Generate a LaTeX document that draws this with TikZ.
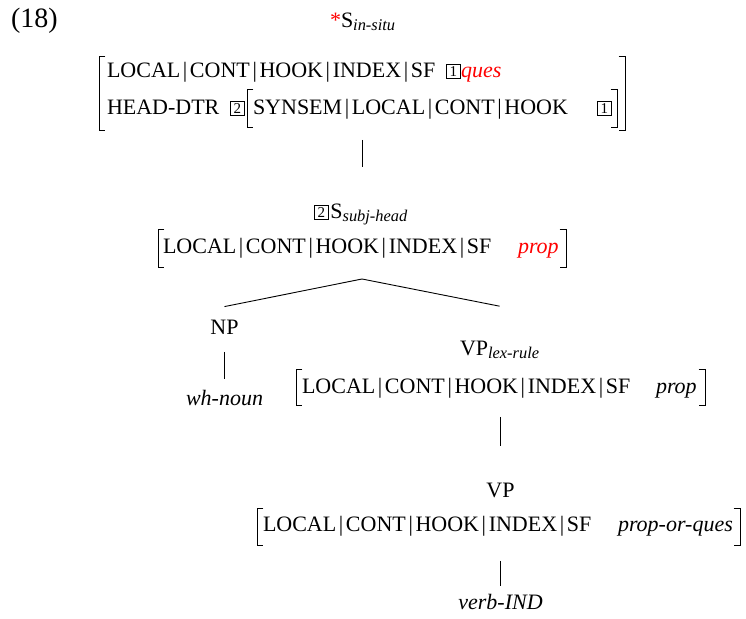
\documentclass[tikz,border=0pt]{standalone}
\usepackage{fontspec}
\setmainfont{Liberation Serif}
\newcommand\vb{\hspace{0.12em}\textbar\hspace{0.12em}}
\newcommand\tg[1]{{\setlength\fboxsep{0pt}\setlength\fboxrule{0.4pt}\fbox{\makebox[6.6pt][c]{\rule[-0.1pt]{0pt}{6.6pt}\raisebox{0.65pt}{\fontsize{7.5}{8}\selectfont#1}}}}}
\newcommand\sbs[1]{{\fontsize{8.2}{9}\selectfont\itshape\raisebox{-1.5pt}{#1}}}
\newcommand\feat{LOCAL\vb CONT\vb HOOK\vb INDEX\vb SF}
\newcommand\brackets[1]{%
  \draw[brk] ([xshift=3.2pt]#1.north west) -- (#1.north west) -- (#1.south west) -- ([xshift=3.2pt]#1.south west);
  \draw[brk] ([xshift=-3.2pt]#1.north east) -- (#1.north east) -- (#1.south east) -- ([xshift=-3.2pt]#1.south east);}
\begin{document}
\begin{tikzpicture}[x=0.5pt,y=-0.5pt,
  txt/.style={inner sep=0pt, outer sep=0pt, anchor=base west, font=\fontsize{11}{13}\selectfont},
  avm/.style={inner sep=0pt, outer sep=0pt, draw=none},
  brk/.style={line width=0.4pt},
  tree/.style={line width=0.45pt}]
\useasboundingbox (0,0) rectangle (746,619);

% example number and root label
\node[txt, font=\fontsize{14}{16}\selectfont] (ex) at (11,28) {(18)};
\node[txt] (top) at (330,28) {\textcolor{red}{*}S\sbs{in-situ}};

% top AVM
\node[avm, minimum width=263pt, minimum height=37pt] (avmA) at (362,93) {};
\brackets{avmA}
\node[txt] (a1) at (107,78) {\feat};
\node[txt] (a1t) at (446,78) {\tg{1}};
\node[txt] (a1v) at (461,78) {\textcolor{red}{\textit{ques}}};
\node[txt] (a2) at (107,115) {HEAD-DTR};
\node[txt] (a2t) at (230,115) {\tg{2}};
\node[avm, minimum width=185pt, minimum height=19pt] (avmAi) at (432,108) {};
\brackets{avmAi}
\node[txt] (a2f) at (253,115) {SYNSEM\vb LOCAL\vb CONT\vb HOOK};
\node[txt] (a2v) at (597,115) {\tg{1}};

% subj-head
\node[txt] (sh) at (314,219) {\tg{2}\hspace{0.8pt}S\sbs{subj-head}};
\node[avm, minimum width=204pt, minimum height=19pt] (avmB) at (362,248) {};
\brackets{avmB}
\node[txt] (b1) at (163,254) {\feat};
\node[txt] (b1v) at (518,254) {\textcolor{red}{\textit{prop}}};
\coordinate (apex) at ([yshift=-6pt]avmB.south);

% NP branch
\node[txt, anchor=base] (np) at (224.5,335) {NP};
\node[txt, anchor=base] (wh) at (224.5,406) {\textit{wh-noun}};

% VP lex-rule
\node[txt] (vpl) at (460,356) {VP\sbs{lex-rule}};
\node[avm, minimum width=204.5pt, minimum height=18pt] (avmC) at (500.5,387) {};
\brackets{avmC}
\node[txt] (c1) at (302,394) {\feat};
\node[txt] (c1v) at (656,394) {\textit{prop}};

% VP
\node[txt, anchor=base] (vp) at (500.5,498) {VP};
\node[avm, minimum width=241.5pt, minimum height=18.5pt] (avmD) at (498.5,526.5) {};
\brackets{avmD}
\node[txt] (d1) at (263,532) {\feat};
\node[txt] (d1v) at (618,532) {\textit{prop-or-ques}};
\node[txt, anchor=base] (vi) at (500.5,610) {\textit{verb-IND}};

% connectors
\draw[tree, shorten >=18.7pt] ([yshift=-5pt]avmA.south) -- (avmA.south |- sh.north);
\draw[tree] ([yshift=7pt]np.north) -- (apex) -- ([yshift=17.7pt]vpl.north);
\draw[tree] ([yshift=-8.5pt]np.base) -- ([yshift=13.5pt]wh.base);
\draw[tree] ([yshift=-6pt]vp.north |- avmC.south) -- ([yshift=19pt]vp.north);
\draw[tree] ([yshift=-8pt]vi.north |- avmD.south) -- ([yshift=4.5pt]vi.north);
\end{tikzpicture}
\end{document}
